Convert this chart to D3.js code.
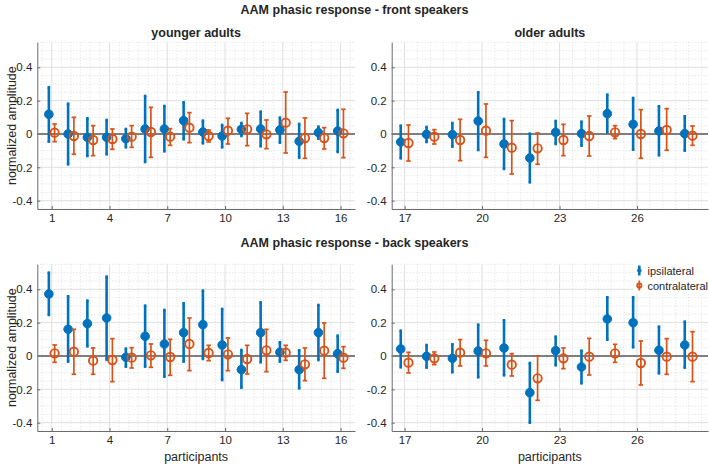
<!DOCTYPE html>
<html><head><meta charset="utf-8">
<script src="https://cdn.jsdelivr.net/npm/d3@7"></script>
<style>
body{margin:0;background:#fff}
svg{display:block}
text{font-family:"Liberation Sans",Arial,Helvetica,sans-serif;fill:#262626}
</style>
</head><body>
<svg id="chart" width="709" height="466"></svg>
<script>
// ---- data ----
const youngIds = [1,2,3,4,5,6,7,8,9,10,11,12,13,14,15,16];
const oldIds = [17,18,19,20,21,22,23,24,25,26,27,28];
const xTicksYoung = [1,4,7,10,13,16];
const xTicksOld = [17,20,23,26];
const yTicks = [-0.4,-0.2,0,0.2,0.4];
const yTickLabels = ["-0.4","-0.2","0","0.2","0.4"];
const seriesNames = ["ipsilateral","contralateral"];

// front speakers, participants 1..28
const frontIpsiMean = [0.118,0.000,-0.020,-0.020,-0.028,0.030,0.030,0.080,0.012,-0.012,0.028,0.030,0.024,-0.044,0.008,0.018,
  -0.048,-0.002,-0.004,0.078,-0.060,-0.144,0.010,0.002,0.122,0.058,0.018,0.002];
const frontIpsiHigh = [0.280,0.182,0.094,0.084,0.030,0.228,0.168,0.190,0.080,0.054,0.066,0.134,0.098,0.060,0.044,0.144,
  0.050,0.042,0.066,0.250,0.090,0.002,0.078,0.074,0.236,0.216,0.166,0.106];
const frontIpsiLow = [-0.046,-0.182,-0.132,-0.122,-0.080,-0.168,-0.104,-0.032,-0.056,-0.080,-0.012,-0.074,-0.052,-0.142,-0.028,-0.108,
  -0.146,-0.048,-0.076,-0.096,-0.210,-0.290,-0.060,-0.070,0.010,-0.094,-0.128,-0.100];
const frontContraMean = [0.008,-0.012,-0.036,-0.030,-0.016,0.012,-0.016,0.038,-0.012,0.020,0.028,-0.002,0.068,-0.024,-0.024,0.004,
  -0.054,-0.016,-0.036,0.020,-0.082,-0.086,-0.036,-0.012,0.010,0.000,0.024,-0.010];
const frontContraHigh = [0.060,0.100,0.050,0.030,0.050,0.160,0.032,0.128,0.024,0.094,0.124,0.084,0.252,0.096,0.038,0.148,
  0.054,0.026,0.088,0.180,0.080,0.006,0.058,0.108,0.050,0.146,0.152,0.048];
const frontContraLow = [-0.046,-0.122,-0.130,-0.092,-0.080,-0.140,-0.068,-0.052,-0.048,-0.060,-0.070,-0.088,-0.114,-0.146,-0.090,-0.142,
  -0.162,-0.060,-0.160,-0.140,-0.240,-0.182,-0.130,-0.132,-0.028,-0.146,-0.098,-0.068];

// back speakers, participants 1..28
const backIpsiMean = [0.372,0.160,0.194,0.228,-0.008,0.118,0.072,0.140,0.188,0.066,-0.082,0.140,0.022,-0.082,0.140,0.014,
  0.042,-0.002,-0.014,0.030,0.048,-0.220,0.032,-0.066,0.222,0.200,0.034,0.066];
const backIpsiHigh = [0.500,0.358,0.332,0.476,0.044,0.302,0.276,0.316,0.392,0.282,0.036,0.322,0.082,0.034,0.306,0.122,
  0.152,0.066,0.070,0.188,0.214,-0.042,0.116,0.032,0.352,0.352,0.176,0.206];
const backIpsiLow = [0.246,-0.034,0.058,-0.022,-0.064,-0.064,-0.124,-0.034,-0.018,-0.144,-0.190,-0.038,-0.034,-0.194,-0.024,-0.094,
  -0.068,-0.070,-0.098,-0.128,-0.116,-0.400,-0.056,-0.164,0.098,0.052,-0.104,-0.070];
const backContraMean = [0.016,0.026,-0.028,-0.024,-0.010,0.004,-0.006,0.072,0.018,0.010,-0.018,0.034,0.020,-0.050,0.032,-0.010,
  -0.040,-0.014,0.020,0.016,-0.052,-0.134,-0.014,-0.004,0.016,-0.042,-0.004,-0.004];
const backContraHigh = [0.066,0.160,0.048,0.104,0.050,0.072,0.100,0.228,0.064,0.108,0.064,0.160,0.064,0.048,0.198,0.056,
  0.022,0.024,0.098,0.094,0.014,0.000,0.048,0.106,0.070,0.090,0.104,0.146];
const backContraLow = [-0.038,-0.110,-0.110,-0.154,-0.072,-0.068,-0.116,-0.088,-0.028,-0.088,-0.108,-0.094,-0.026,-0.148,-0.134,-0.074,
  -0.102,-0.052,-0.060,-0.060,-0.120,-0.266,-0.076,-0.114,-0.038,-0.174,-0.110,-0.154];

// ---- layout ----
const BLUE = "#0072BD", ORANGE = "#D95319";
const svg = d3.select("#chart");

const rows = {
  front: {ipsi:[frontIpsiMean,frontIpsiLow,frontIpsiHigh], contra:[frontContraMean,frontContraLow,frontContraHigh]},
  back:  {ipsi:[backIpsiMean,backIpsiLow,backIpsiHigh],   contra:[backContraMean,backContraLow,backContraHigh]}
};

const panels = [
  {row:"front", ids:youngIds, ticks:xTicksYoung, xd:[0.25,16.75], xr:[37.3,355], yr:[209,42.3], title:"younger adults", ylab:true, xlab:false, legend:false},
  {row:"front", ids:oldIds, ticks:xTicksOld, xd:[16.5,28.75], xr:[391.7,708], yr:[209,42.3], title:"older adults", ylab:false, xlab:false, legend:false},
  {row:"back", ids:youngIds, ticks:xTicksYoung, xd:[0.25,16.75], xr:[37.3,355], yr:[431,264.3], title:null, ylab:true, xlab:true, legend:false},
  {row:"back", ids:oldIds, ticks:xTicksOld, xd:[16.5,28.75], xr:[391.7,708], yr:[431,264.3], title:null, ylab:false, xlab:true, legend:true}
];

svg.append("text").attr("x",354.5).attr("y",14).attr("text-anchor","middle")
  .style("font-size","12.5px").style("font-weight","bold").text("AAM phasic response - front speakers");
svg.append("text").attr("x",354.5).attr("y",247).attr("text-anchor","middle")
  .style("font-size","12.5px").style("font-weight","bold").text("AAM phasic response - back speakers");

const OFF = 0.15;

panels.forEach(p => {
  const x = d3.scaleLinear().domain(p.xd).range(p.xr);
  const y = d3.scaleLinear().domain([-0.45,0.55]).range(p.yr);
  const g = svg.append("g");
  const [xa,xb] = p.xr, [yb,ya] = p.yr;

  // minor grid
  const xMinor = d3.range(Math.ceil(p.xd[0]*2)/2, p.xd[1]+1e-9, 0.5).filter(v => !p.ticks.includes(v) && x(v) > xa+0.5);
  const yMinor = d3.range(-45,56,5).map(v => v/100).filter(v => !yTicks.some(t => Math.abs(t-v)<1e-9));
  g.append("g").selectAll("line").data(xMinor).join("line")
    .attr("x1",d=>x(d)).attr("x2",d=>x(d)).attr("y1",ya).attr("y2",yb)
    .attr("stroke","#c9c9c9").attr("stroke-width",0.6).attr("stroke-dasharray","1,2");
  g.append("g").selectAll("line").data(yMinor).join("line")
    .attr("x1",xa).attr("x2",xb).attr("y1",d=>y(d)).attr("y2",d=>y(d))
    .attr("stroke","#c9c9c9").attr("stroke-width",0.6).attr("stroke-dasharray","1,2");
  // major grid
  g.append("g").selectAll("line").data(p.ticks).join("line")
    .attr("x1",d=>x(d)).attr("x2",d=>x(d)).attr("y1",ya).attr("y2",yb)
    .attr("stroke","#dfdfdf").attr("stroke-width",1);
  g.append("g").selectAll("line").data(yTicks).join("line")
    .attr("x1",xa).attr("x2",xb).attr("y1",d=>y(d)).attr("y2",d=>y(d))
    .attr("stroke","#dfdfdf").attr("stroke-width",1);

  // axes
  const xAxis = d3.axisBottom(x).tickValues(p.ticks).tickFormat(d3.format("d"))
    .tickSizeInner(-3).tickSizeOuter(0).tickPadding(5);
  const gx = g.append("g").attr("transform",`translate(0,${yb})`).call(xAxis);
  const yAxis = d3.axisLeft(y).tickValues(yTicks).tickFormat((d,i)=>yTickLabels[i])
    .tickSizeInner(-3).tickSizeOuter(0).tickPadding(5);
  const gy = g.append("g").attr("transform",`translate(${xa},0)`).call(yAxis);
  [gx,gy].forEach(a => {
    a.select(".domain").attr("stroke","#6b6b6b").attr("stroke-width",1);
    a.selectAll(".tick line").attr("stroke","#6b6b6b");
    a.selectAll(".tick text").style("font-size","11.5px").attr("fill","#262626")
      .style("font-family","'Liberation Sans',Arial,sans-serif");
  });

  // zero line
  g.append("line").attr("x1",xa).attr("x2",xb).attr("y1",y(0)).attr("y2",y(0))
    .attr("stroke","#7f7f7f").attr("stroke-width",2.2);

  const series = rows[p.row];
  const drawSeries = (arr, off, color, bw, capW, filled) => {
    const [m,lo,hi] = arr;
    const d = p.ids.map(id => ({id, m:m[id-1], lo:lo[id-1], hi:hi[id-1]}));
    const sg = g.append("g");
    sg.selectAll("line.bar").data(d).join("line").attr("class","bar")
      .attr("x1",e=>x(e.id+off)).attr("x2",e=>x(e.id+off)).attr("y1",e=>y(e.lo)).attr("y2",e=>y(e.hi))
      .attr("stroke",color).attr("stroke-width",bw);
    ["lo","hi"].forEach(k => {
      sg.selectAll("line.cap"+k).data(d).join("line").attr("class","cap"+k)
        .attr("x1",e=>x(e.id+off)-capW/2).attr("x2",e=>x(e.id+off)+capW/2)
        .attr("y1",e=>y(e[k])).attr("y2",e=>y(e[k]))
        .attr("stroke",color).attr("stroke-width",bw);
    });
    sg.selectAll("circle").data(d).join("circle")
      .attr("cx",e=>x(e.id+off)).attr("cy",e=>y(e.m))
      .attr("r", filled ? 4.3 : 4.2)
      .attr("fill", filled ? color : "none")
      .attr("stroke", color).attr("stroke-width", filled ? 1 : 1.9);
  };
  drawSeries(series.ipsi, -OFF, BLUE, 2.6, 2.6, true);
  drawSeries(series.contra, OFF, ORANGE, 1.7, 4.5, false);

  if (p.title) {
    svg.append("text").attr("x",(xa+xb)/2).attr("y",37).attr("text-anchor","middle")
      .style("font-size","12.5px").style("font-weight","bold").text(p.title);
  }
  if (p.ylab) {
    svg.append("text").attr("transform",`translate(16,${(ya+yb)/2}) rotate(-90)`)
      .attr("text-anchor","middle").style("font-size","12.5px").text("normalized amplitude");
  }
  if (p.xlab) {
    svg.append("text").attr("x",(xa+xb)/2).attr("y",461).attr("text-anchor","middle")
      .style("font-size","12.5px").text("participants");
  }
  if (p.legend) {
    const lg = svg.append("g");
    lg.append("rect").attr("x",633).attr("y",261).attr("width",76).attr("height",33).attr("fill","#fff");
    const items = [{name:seriesNames[0], color:BLUE, cy:270.5, filled:true},
                   {name:seriesNames[1], color:ORANGE, cy:285.5, filled:false}];
    items.forEach(it => {
      lg.append("line").attr("x1",639.3).attr("x2",639.3).attr("y1",it.cy-5).attr("y2",it.cy+5)
        .attr("stroke",it.color).attr("stroke-width",it.filled?2.6:1.7);
      lg.append("circle").attr("cx",639.3).attr("cy",it.cy).attr("r",it.filled?1.8:2.2)
        .attr("fill",it.filled?it.color:"none").attr("stroke",it.color).attr("stroke-width",it.filled?1:1.8);
      lg.append("text").attr("x",647.5).attr("y",it.cy+4).style("font-size","11px").text(it.name);
    });
  }
});
</script>
</body></html>
